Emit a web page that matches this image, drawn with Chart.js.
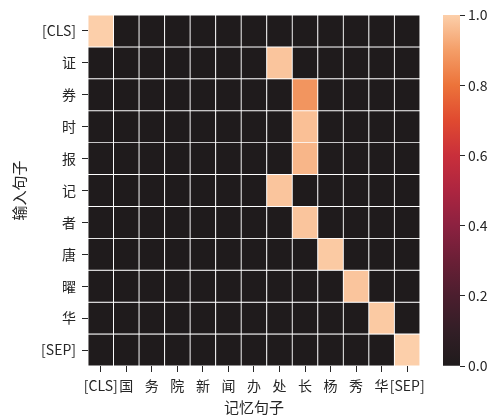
<!DOCTYPE html>
<html>
<head>
<meta charset="utf-8">
<script src="https://cdn.jsdelivr.net/npm/chart.js@4.4.1/dist/chart.umd.min.js"></script>
<style>
  html, body { margin: 0; padding: 0; background: #fff; }
  #wrap { position: relative; width: 499px; height: 416px; }
  #heat { position: absolute; left: 0; top: 0; }
  #cbar { position: absolute; left: 430px; top: 0; }
</style>
</head>
<body>
<div id="wrap">
  <canvas id="heat" width="430" height="416"></canvas>
  <canvas id="cbar" width="69" height="416"></canvas>
</div>
<script>
// filas (输入句子) y columnas (记忆句子)
const rowLabels = ['[CLS]', '证', '券', '时', '报', '记', '者', '唐', '曜', '华', '[SEP]'];
const colLabels = ['[CLS]', '国', '务', '院', '新', '闻', '办', '处', '长', '杨', '秀', '华', '[SEP]'];

// pesos de atencion por fila
const rowCLS = [1.00, 0, 0, 0, 0, 0, 0, 0, 0, 0, 0, 0, 0];
const rowZheng = [0, 0, 0, 0, 0, 0, 0, 0.98, 0, 0, 0, 0, 0];
const rowQuan = [0, 0, 0, 0, 0, 0, 0, 0, 0.88, 0, 0, 0, 0];
const rowShi = [0, 0, 0, 0, 0, 0, 0, 0, 0.97, 0, 0, 0, 0];
const rowBao = [0, 0, 0, 0, 0, 0, 0, 0, 0.95, 0, 0, 0, 0];
const rowJi = [0, 0, 0, 0, 0, 0, 0, 0.98, 0, 0, 0, 0, 0];
const rowZhe = [0, 0, 0, 0, 0, 0, 0, 0, 0.98, 0, 0, 0, 0];
const rowTang = [0, 0, 0, 0, 0, 0, 0, 0, 0, 0.99, 0, 0, 0];
const rowYao = [0, 0, 0, 0, 0, 0, 0, 0, 0, 0, 0.98, 0, 0];
const rowHua = [0, 0, 0, 0, 0, 0, 0, 0, 0, 0, 0, 0.99, 0];
const rowSEP = [0, 0, 0, 0, 0, 0, 0, 0, 0, 0, 0, 0, 1.00];
const rows = [rowCLS, rowZheng, rowQuan, rowShi, rowBao, rowJi, rowZhe, rowTang, rowYao, rowHua, rowSEP];

const cbarTicks = [0, 0.2, 0.4, 0.6, 0.8, 1.0];

const FONT = "'Noto Sans CJK SC', 'Noto Sans', sans-serif";
const INK = '#262626';

// mapa de color (oscuro -> rojo -> durazno)
const stops = [
  [0.0, [31, 27, 28]],
  [0.1, [50, 30, 38]],
  [0.2, [75, 30, 46]],
  [0.3, [106, 31, 54]],
  [0.4, [140, 33, 64]],
  [0.5, [173, 37, 64]],
  [0.6, [201, 47, 59]],
  [0.7, [224, 74, 48]],
  [0.8, [236, 115, 58]],
  [0.9, [244, 158, 104]],
  [1.0, [252, 207, 170]]
];

function colorFor(v) {
  for (let i = 1; i < stops.length; i++) {
    if (v <= stops[i][0]) {
      const a = stops[i - 1], b = stops[i];
      const t = (v - a[0]) / (b[0] - a[0]);
      const c = a[1].map((x, k) => Math.round(x + (b[1][k] - x) * t));
      return 'rgb(' + c.join(',') + ')';
    }
  }
  return 'rgb(' + stops[stops.length - 1][1].join(',') + ')';
}

Chart.defaults.font.family = FONT;
Chart.defaults.color = INK;

// heatmap: una serie de barras flotantes por fila
const heatCtx = document.getElementById('heat');
new Chart(heatCtx, {
  type: 'bar',
  data: {
    labels: colLabels,
    datasets: rows.map(function (vals, i) {
      return {
        label: rowLabels[i],
        data: vals.map(function () { return [i - 0.5, i + 0.5]; }),
        backgroundColor: function (c) { return colorFor(rows[c.datasetIndex][c.dataIndex]); },
        borderColor: '#ffffff',
        borderWidth: 0.8,
        borderSkipped: false,
        barPercentage: 1,
        categoryPercentage: 1,
        grouped: false
      };
    })
  },
  options: {
    responsive: false,
    animation: false,
    devicePixelRatio: 1,
    layout: { padding: { top: 15, right: 10, left: 0, bottom: 0 } },
    plugins: { legend: { display: false }, tooltip: { enabled: false } },
    scales: {
      x: {
        type: 'category',
        offset: true,
        grid: { offset: false, drawOnChartArea: false, drawTicks: true, tickLength: 6, color: INK },
        border: { display: false },
        ticks: { autoSkip: false, maxRotation: 0, padding: 5, font: { size: 14 }, color: INK },
        title: { display: true, text: '记忆句子', font: { size: 15 }, padding: { top: 0, bottom: 0 }, color: INK },
        afterFit: function (scale) { scale.height = 50; }
      },
      y: {
        type: 'linear',
        reverse: true,
        min: -0.5,
        max: 10.5,
        afterBuildTicks: function (scale) {
          scale.ticks = rowLabels.map(function (_, i) { return { value: i }; });
        },
        grid: { drawOnChartArea: false, drawTicks: true, tickLength: 6, color: INK },
        border: { display: false },
        ticks: {
          autoSkip: false,
          padding: 6,
          font: { size: 14 },
          color: INK,
          callback: function (v) { return rowLabels[v]; }
        },
        title: { display: true, text: '输入句子', font: { size: 15 }, padding: { top: 10, bottom: 0 }, color: INK },
        afterFit: function (scale) { scale.width = 88; }
      }
    }
  }
});

// barra de color
const cbarCtx = document.getElementById('cbar');
new Chart(cbarCtx, {
  type: 'bar',
  data: {
    labels: ['cbar'],
    datasets: [{
      data: [[0, 1]],
      backgroundColor: function (c) {
        const area = c.chart.chartArea;
        if (!area) return null;
        const g = c.chart.ctx.createLinearGradient(0, area.bottom, 0, area.top);
        stops.forEach(function (s) { g.addColorStop(s[0], 'rgb(' + s[1].join(',') + ')'); });
        return g;
      },
      borderWidth: 0,
      barPercentage: 1,
      categoryPercentage: 1
    }]
  },
  options: {
    responsive: false,
    animation: false,
    devicePixelRatio: 1,
    layout: { padding: { top: 15, right: 0, left: 13, bottom: 50 } },
    plugins: { legend: { display: false }, tooltip: { enabled: false } },
    scales: {
      x: { display: false },
      y: {
        position: 'right',
        min: 0,
        max: 1,
        afterBuildTicks: function (scale) {
          scale.ticks = cbarTicks.map(function (v) { return { value: v }; });
        },
        grid: { drawOnChartArea: false, drawTicks: true, tickLength: 5, color: INK },
        border: { display: false },
        ticks: {
          padding: 3,
          font: { size: 14 },
          color: INK,
          callback: function (v) { return v.toFixed(1); }
        },
        afterFit: function (scale) { scale.width = 39; }
      }
    }
  }
});
</script>
</body>
</html>
